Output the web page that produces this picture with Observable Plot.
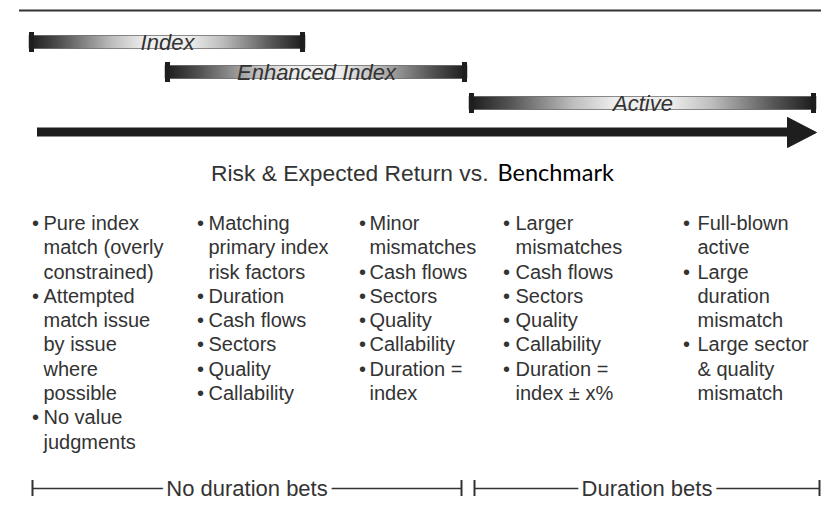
<!DOCTYPE html>
<html>
<head>
<meta charset="utf-8">
<script src="https://cdn.jsdelivr.net/npm/d3@7"></script>
<script src="https://cdn.jsdelivr.net/npm/@observablehq/plot@0.6"></script>
<style>
  html, body { margin: 0; padding: 0; background: #fff; }
  #chart svg { display: block; }
</style>
</head>
<body>
<div id="chart"></div>
<script>
// ---- Data: strategy bands along the risk spectrum ----
const bandNames = ["Index", "Enhanced Index", "Active"];
const bandStart = [29, 165, 469];
const bandEnd   = [305, 467, 816];
const bandRow   = [42, 72, 103];

// Spectrum arrow
const arrowStart = 37;
const arrowEnd = 816;
const arrowRow = 132;

// Title
const titleMain = "Risk & Expected Return vs.";
const titleEnd = "Benchmark";

// Bullet columns (each item is a list of wrapped lines)
const col1 = [["Pure index", "match (overly", "constrained)"],
              ["Attempted", "match issue", "by issue", "where", "possible"],
              ["No value", "judgments"]];
const col2 = [["Matching", "primary index", "risk factors"], ["Duration"], ["Cash flows"],
              ["Sectors"], ["Quality"], ["Callability"]];
const col3 = [["Minor", "mismatches"], ["Cash flows"], ["Sectors"], ["Quality"],
              ["Callability"], ["Duration =", "index"]];
const col4 = [["Larger", "mismatches"], ["Cash flows"], ["Sectors"], ["Quality"],
              ["Callability"], ["Duration =", "index ± x%"]];
const col5 = [["Full-blown", "active"], ["Large", "duration", "mismatch"],
              ["Large sector", "& quality", "mismatch"]];
const columns = [col1, col2, col3, col4, col5];
const columnBullet = [35, 200, 362, 506, 686];
const columnText = [43, 208, 369, 515, 697];

// Duration brackets
const bracketNames = ["No duration bets", "Duration bets"];
const bracketStart = [32, 474];
const bracketEnd = [461, 819];

// ---- Build tables ----
const bands = bandNames.map((name, i) => ({name, start: bandStart[i], end: bandEnd[i], y: bandRow[i]}));
const brackets = bracketNames.map((name, i) => ({name, start: bracketStart[i], end: bracketEnd[i]}));

const firstLine = 223, lineStep = 24.3, bracketRow = 488;
const lines = [], bullets = [];
columns.forEach((col, c) => {
  let row = 0;
  col.forEach(item => {
    bullets.push({x: columnBullet[c], y: firstLine + row * lineStep});
    item.forEach(t => {
      lines.push({x: columnText[c], y: firstLine + row * lineStep, text: t});
      row++;
    });
  });
});

const head = [
  {x: arrowEnd - 29, y: arrowRow - 15},
  {x: arrowEnd, y: arrowRow},
  {x: arrowEnd - 29, y: arrowRow + 15},
  {x: arrowEnd - 29, y: arrowRow - 15}
];

const font = "'Liberation Sans', Arial, Helvetica, sans-serif";
const ink = "#333";

const svg = Plot.plot({
  width: 821,
  height: 512,
  margin: 0,
  x: {domain: [0, 821], range: [0, 821], axis: null},
  y: {domain: [0, 512], range: [0, 512], axis: null},
  style: {background: "#fff", overflow: "visible"},
  marks: [
    // top rule
    Plot.ruleY([10], {x1: 19, x2: 821, stroke: "#333", strokeWidth: 2}),
    // band bars
    Plot.rect(bands, {x1: "start", x2: "end", y1: d => d.y - 6.5, y2: d => d.y + 6.5,
      fill: "url(#bandGrad)", stroke: "#444", strokeWidth: 0.6}),
    Plot.rect(bands, {x1: "start", x2: d => d.start + 5, y1: d => d.y - 10, y2: d => d.y + 10, fill: "#1e1e1e"}),
    Plot.rect(bands, {x1: d => d.end - 5, x2: "end", y1: d => d.y - 10, y2: d => d.y + 10, fill: "#1e1e1e"}),
    Plot.text(bands, {x: d => (d.start + d.end) / 2, y: "y", text: "name", fontFamily: font,
      fontStyle: "italic", fontSize: 22, fill: "#333"}),
    // arrow
    Plot.rect([arrowRow], {x1: arrowStart, x2: arrowEnd - 27, y1: d => d - 4.5, y2: d => d + 4.5, fill: "#1e1e1e"}),
    Plot.line(head, {x: "x", y: "y", fill: "#1e1e1e", stroke: "#1e1e1e", strokeWidth: 1}),
    // title
    Plot.text([titleMain], {x: 488, y: 173, text: d => d, textAnchor: "end", fontFamily: font, fontSize: 22.8, fill: "#333"}),
    Plot.text([titleEnd], {x: 497, y: 173, text: d => d, textAnchor: "start", fontFamily: "Lato, 'Open Sans', sans-serif", fontSize: 23.5, fill: "#000"}),
    // bullets
    Plot.text(bullets, {x: "x", y: "y", text: () => "•", fontFamily: font, fontSize: 20, fill: ink}),
    Plot.text(lines, {x: "x", y: "y", text: "text", textAnchor: "start", fontFamily: font, fontSize: 20, fill: ink}),
    // brackets
    Plot.ruleY(brackets, {x1: "start", x2: "end", y: bracketRow, stroke: "#333", strokeWidth: 1.5}),
    Plot.ruleX(brackets, {x: "start", y1: bracketRow - 8, y2: bracketRow + 8, stroke: "#333", strokeWidth: 2}),
    Plot.ruleX(brackets, {x: "end", y1: bracketRow - 8, y2: bracketRow + 8, stroke: "#333", strokeWidth: 2}),
    Plot.text(brackets, {x: d => (d.start + d.end) / 2 + (d.name === "No duration bets" ? 0 : 0), y: bracketRow, text: "name",
      fontFamily: font, fontSize: 22, fill: "#333", stroke: "#fff", strokeWidth: 10, paintOrder: "stroke"})
  ]
});

// gradient definition for the bars
const defs = d3.select(svg).insert("defs", ":first-child");
const grad = defs.append("linearGradient").attr("id", "bandGrad").attr("x1", "0").attr("x2", "1").attr("y1", "0").attr("y2", "0");
[[0, "#1a1a1a"], [0.12, "#555"], [0.3, "#bdbdbd"], [0.42, "#eeeeee"], [0.58, "#eeeeee"], [0.7, "#bdbdbd"], [0.88, "#555"], [1, "#1a1a1a"]]
  .forEach(([o, c]) => grad.append("stop").attr("offset", o).attr("stop-color", c));

document.getElementById("chart").appendChild(svg);
</script>
</body>
</html>
